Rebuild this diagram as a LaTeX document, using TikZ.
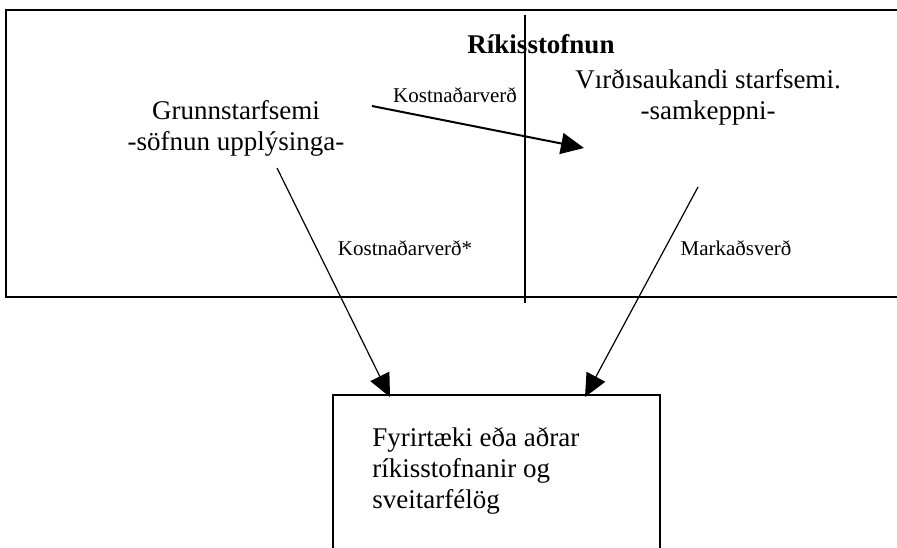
\documentclass[tikz,border=0pt]{standalone}
\usepackage{fontspec}
\setmainfont{Liberation Serif}
\usetikzlibrary{arrows.meta}
\begin{document}
\begin{tikzpicture}[x=0.5pt,y=-0.5pt,
  maintext/.style={font=\fontsize{13.5pt}{15.5pt}\selectfont, inner sep=0pt, align=center},
  smalltext/.style={font=\fontsize{10.5pt}{12pt}\selectfont, inner sep=0pt},
  flow/.style={line width=0.6pt, -{Triangle[length=11.5pt,width=10.5pt]}},
  boxline/.style={line width=1pt}]
\useasboundingbox (0,0) rectangle (897,547);
\clip (0,0) rectangle (897,547);
% big box (extends past the right edge)
\draw[boxline] (6,10) rectangle (910,297);
% divider
\draw[line width=0.8pt] (525,15) -- (525,303);
% lower box
\draw[line width=0.7pt] (333,395) rectangle (660,570);

\node[font=\bfseries\fontsize{13.5pt}{15.5pt}\selectfont, inner sep=0pt] (title) at (541,44) {Ríkisstofnun};
\node[maintext] (basic) at (236,128) {Grunnstarfsemi\\-söfnun upplýsinga-};
\node[maintext] (value) at (708,97) {Vırðısaukandi starfsemi.\\-samkeppni-};
\node[smalltext] (l1) at (455,95) {Kostnaðarverð};
\node[smalltext] (l2) at (405,248) {Kostnaðarverð*};
\node[smalltext] (l3) at (736,248) {Markaðsverð};
\node[font=\fontsize{13.5pt}{15.5pt}\selectfont, inner sep=0pt, align=left, anchor=north west] (firm) at (372,427) {Fyrirtæki eða aðrar\\ríkisstofnanir og\\sveitarfélög};

\coordinate (a1s) at (372,106);
\coordinate (a1e) at (584,148);
\coordinate (a2s) at (277,168);
\coordinate (a2e) at (390,397);
\coordinate (a3s) at (698,187);
\coordinate (a3e) at (585,397);
\draw[flow, line width=1pt] (a1s) -- (a1e);
\draw[flow] (a2s) -- (a2e);
\draw[flow] (a3s) -- (a3e);
\end{tikzpicture}
\end{document}
